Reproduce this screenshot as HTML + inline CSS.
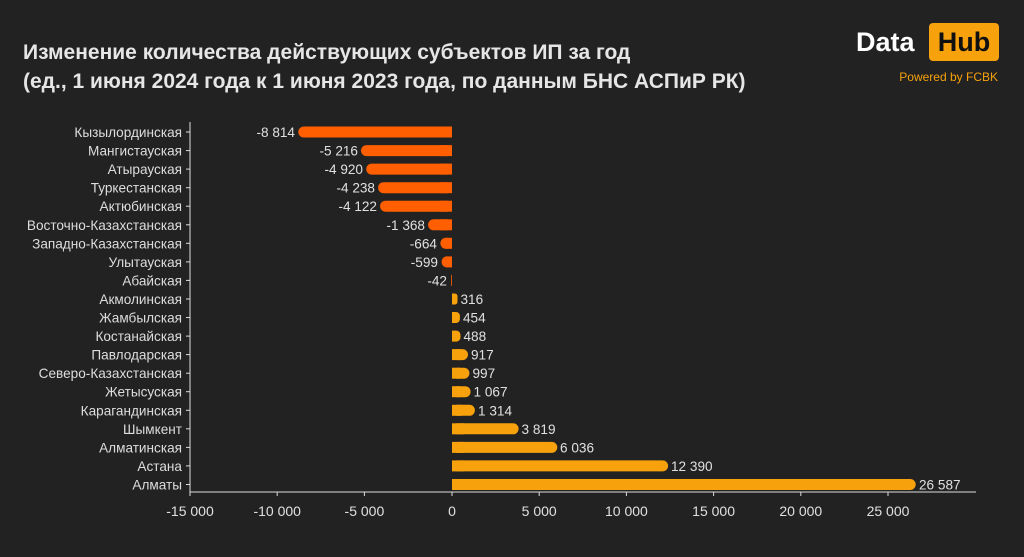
<!DOCTYPE html><html><head><meta charset="utf-8"><style>
body{margin:0;background:#222222;}
svg{display:block;font-family:"Liberation Sans",sans-serif;}
</style></head><body>
<svg width="1024" height="557" viewBox="0 0 1024 557" xmlns="http://www.w3.org/2000/svg">
<rect width="1024" height="557" fill="#222222"/>
<text x="23" y="59" fill="#e6e6e6" font-size="21" font-weight="bold">Изменение количества действующих субъектов ИП за год</text>
<text x="23" y="88" fill="#e6e6e6" font-size="21" font-weight="bold">(ед., 1 июня 2024 года к 1 июня 2023 года, по данным БНС АСПиР РК)</text>
<text x="856" y="51" fill="#ffffff" font-size="27" font-weight="bold">Data</text>
<rect x="929" y="23" width="70" height="38" rx="4" fill="#f7a10c"/>
<text x="964" y="51" fill="#111" font-size="27" font-weight="bold" text-anchor="middle">Hub</text>
<text x="998" y="81" fill="#f7a10c" font-size="12" text-anchor="end">Powered by FCBK</text>
<line x1="190" y1="122" x2="190" y2="492" stroke="#ddd" stroke-width="1"/>
<line x1="190" y1="492" x2="976" y2="492" stroke="#ddd" stroke-width="1"/>
<g stroke="#ddd" stroke-width="1">
<line x1="186" y1="132" x2="190" y2="132"/><line x1="186" y1="150.6" x2="190" y2="150.6"/><line x1="186" y1="169.1" x2="190" y2="169.1"/><line x1="186" y1="187.7" x2="190" y2="187.7"/><line x1="186" y1="206.2" x2="190" y2="206.2"/><line x1="186" y1="224.8" x2="190" y2="224.8"/><line x1="186" y1="243.3" x2="190" y2="243.3"/><line x1="186" y1="261.9" x2="190" y2="261.9"/><line x1="186" y1="280.4" x2="190" y2="280.4"/><line x1="186" y1="299" x2="190" y2="299"/><line x1="186" y1="317.5" x2="190" y2="317.5"/><line x1="186" y1="336.1" x2="190" y2="336.1"/><line x1="186" y1="354.6" x2="190" y2="354.6"/><line x1="186" y1="373.2" x2="190" y2="373.2"/><line x1="186" y1="391.7" x2="190" y2="391.7"/><line x1="186" y1="410.3" x2="190" y2="410.3"/><line x1="186" y1="428.8" x2="190" y2="428.8"/><line x1="186" y1="447.4" x2="190" y2="447.4"/><line x1="186" y1="465.9" x2="190" y2="465.9"/><line x1="186" y1="484.5" x2="190" y2="484.5"/>
</g>
<g fill="#ddd" font-size="13.6" text-anchor="end">
<text x="182" y="137">Кызылординская</text>
<text x="182" y="155.6">Мангистауская</text>
<text x="182" y="174.1">Атырауская</text>
<text x="182" y="192.7">Туркестанская</text>
<text x="182" y="211.2">Актюбинская</text>
<text x="182" y="229.8">Восточно-Казахстанская</text>
<text x="182" y="248.3">Западно-Казахстанская</text>
<text x="182" y="266.9">Улытауская</text>
<text x="182" y="285.4">Абайская</text>
<text x="182" y="304">Акмолинская</text>
<text x="182" y="322.5">Жамбылская</text>
<text x="182" y="341.1">Костанайская</text>
<text x="182" y="359.6">Павлодарская</text>
<text x="182" y="378.2">Северо-Казахстанская</text>
<text x="182" y="396.7">Жетысуская</text>
<text x="182" y="415.3">Карагандинская</text>
<text x="182" y="433.8">Шымкент</text>
<text x="182" y="452.4">Алматинская</text>
<text x="182" y="470.9">Астана</text>
<text x="182" y="489.5">Алматы</text>
</g>
<g fill="#ff5f00">
<rect x="298.3" y="126.5" width="153.7" height="11" rx="5.5"/><rect x="440" y="126.5" width="12" height="11"/>
<rect x="361" y="145.1" width="91" height="11" rx="5.5"/><rect x="440" y="145.1" width="12" height="11"/>
<rect x="366.2" y="163.6" width="85.8" height="11" rx="5.5"/><rect x="440" y="163.6" width="12" height="11"/>
<rect x="378.1" y="182.2" width="73.9" height="11" rx="5.5"/><rect x="440" y="182.2" width="12" height="11"/>
<rect x="380.1" y="200.7" width="71.9" height="11" rx="5.5"/><rect x="440" y="200.7" width="12" height="11"/>
<rect x="428.1" y="219.3" width="23.9" height="11" rx="5.5"/><rect x="440" y="219.3" width="12" height="11"/>
<rect x="440.4" y="237.8" width="11.6" height="11" rx="5.5"/><rect x="446" y="237.8" width="6" height="11"/>
<rect x="441.6" y="256.4" width="10.4" height="11" rx="5.2"/><rect x="446" y="256.4" width="6" height="11"/>
<rect x="451.2" y="274.9" width="0.8" height="11"/>
</g>
<g fill="#f7a10c">
<rect x="452" y="293.5" width="5.5" height="11" rx="2.7"/><rect x="452" y="293.5" width="3" height="11"/>
<rect x="452" y="312" width="7.9" height="11" rx="3.9"/><rect x="452" y="312" width="4" height="11"/>
<rect x="452" y="330.6" width="8.5" height="11" rx="4.2"/><rect x="452" y="330.6" width="4" height="11"/>
<rect x="452" y="349.1" width="16" height="11" rx="5.5"/><rect x="452" y="349.1" width="8" height="11"/>
<rect x="452" y="367.7" width="17.4" height="11" rx="5.5"/><rect x="452" y="367.7" width="8" height="11"/>
<rect x="452" y="386.2" width="18.6" height="11" rx="5.5"/><rect x="452" y="386.2" width="8" height="11"/>
<rect x="452" y="404.8" width="22.9" height="11" rx="5.5"/><rect x="452" y="404.8" width="10" height="11"/>
<rect x="452" y="423.3" width="66.6" height="11" rx="5.5"/><rect x="452" y="423.3" width="12" height="11"/>
<rect x="452" y="441.9" width="105.3" height="11" rx="5.5"/><rect x="452" y="441.9" width="12" height="11"/>
<rect x="452" y="460.4" width="216.1" height="11" rx="5.5"/><rect x="452" y="460.4" width="12" height="11"/>
<rect x="452" y="479" width="463.7" height="11" rx="5.5"/><rect x="452" y="479" width="12" height="11"/>
</g>
<g fill="#e0e0e0" font-size="13.6" text-anchor="end">
<text x="295" y="137">-8 814</text>
<text x="358" y="155.6">-5 216</text>
<text x="363" y="174.1">-4 920</text>
<text x="375" y="192.7">-4 238</text>
<text x="377" y="211.2">-4 122</text>
<text x="425" y="229.8">-1 368</text>
<text x="437" y="248.3">-664</text>
<text x="438" y="266.9">-599</text>
<text x="447" y="285.4">-42</text>
</g>
<g fill="#e0e0e0" font-size="13.6">
<text x="460.5" y="304">316</text>
<text x="463" y="322.5">454</text>
<text x="463.5" y="341.1">488</text>
<text x="471" y="359.6">917</text>
<text x="472.5" y="378.2">997</text>
<text x="473.5" y="396.7">1 067</text>
<text x="478" y="415.3">1 314</text>
<text x="521.5" y="433.8">3 819</text>
<text x="560" y="452.4">6 036</text>
<text x="671" y="470.9">12 390</text>
<text x="919" y="489.5">26 587</text>
</g>
<g stroke="#ddd" stroke-width="1">
<line x1="190" y1="492" x2="190" y2="496"/><line x1="277.2" y1="492" x2="277.2" y2="496"/><line x1="364.4" y1="492" x2="364.4" y2="496"/><line x1="452" y1="492" x2="452" y2="496"/><line x1="539.2" y1="492" x2="539.2" y2="496"/><line x1="626.4" y1="492" x2="626.4" y2="496"/><line x1="713.6" y1="492" x2="713.6" y2="496"/><line x1="800.8" y1="492" x2="800.8" y2="496"/><line x1="888" y1="492" x2="888" y2="496"/>
</g>
<g fill="#e0e0e0" font-size="14" text-anchor="middle">
<text x="190" y="516">-15 000</text>
<text x="277.2" y="516">-10 000</text>
<text x="364.4" y="516">-5 000</text>
<text x="452" y="516">0</text>
<text x="539.2" y="516">5 000</text>
<text x="626.4" y="516">10 000</text>
<text x="713.6" y="516">15 000</text>
<text x="800.8" y="516">20 000</text>
<text x="888" y="516">25 000</text>
</g>
</svg>
</body></html>
